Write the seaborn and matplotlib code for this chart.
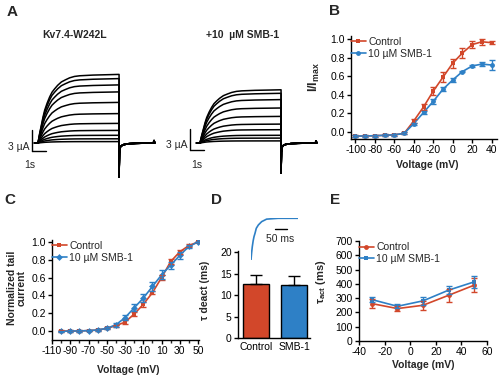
"""Kv7.4-W242L / SMB-1 figure: traces, activation, tail current, tau deact, tau act"""

import matplotlib
matplotlib.use("Agg")
from matplotlib import pyplot as plt
from matplotlib.ticker import MultipleLocator
import pandas as pd
import seaborn as sns

RED = "#D2472A"
BLUE = "#2E80C6"
W, H = 500, 377

# A: current traces (time in s, current in uA)
rise_t = [0.0, 0.12, 0.24, 0.36, 0.48, 0.65, 0.83, 1.0, 1.19, 1.4, 1.67, 1.95, 2.26, 2.6, 2.98, 3.93, 5.79]
rise_frac = [0.0, 0.14, 0.26, 0.38, 0.48, 0.58, 0.67, 0.74, 0.79, 0.84, 0.89, 0.92, 0.95, 0.97, 0.98, 0.99, 1.0]
tail_t = [0.0, 0.03, 0.1, 0.3, 0.7, 1.2, 2.45, 2.5, 2.55]
tail_frac = [-1.0, -0.3, -0.1, -0.05, -0.02, -0.01, 0.0, 0.07, 0.0]
amp_control = [9.8, 9.2, 8.3, 7.3, 5.8, 4.2, 2.8, 1.8, 1.1, 0.6, 0.2]
amp_smb = [7.6, 7.1, 6.2, 5.0, 3.8, 2.7, 1.9, 1.1, 0.7, 0.3]

# B: I/Imax vs voltage
volt_b = [-100, -90, -80, -70, -60, -50, -40, -30, -20, -10, 0, 10, 20, 30, 40]
b_control = [-0.045, -0.042, -0.04, -0.035, -0.03, -0.015, 0.12, 0.27, 0.44, 0.59, 0.74, 0.85, 0.94, 0.97, 0.96]
b_control_err = [0.01, 0.01, 0.01, 0.01, 0.01, 0.01, 0.02, 0.03, 0.04, 0.05, 0.05, 0.05, 0.04, 0.03, 0.015]
b_smb = [-0.045, -0.042, -0.04, -0.035, -0.03, -0.015, 0.09, 0.21, 0.33, 0.46, 0.56, 0.65, 0.71, 0.73, 0.72]
b_smb_err = [0.01, 0.01, 0.01, 0.01, 0.01, 0.01, 0.01, 0.02, 0.03, 0.02, 0.02, 0.01, 0.01, 0.02, 0.05]

# C: normalized tail current
volt_c = [-100, -90, -80, -70, -60, -50, -40, -30, -20, -10, 0, 10, 20, 30, 40, 50]
c_control = [0.0, 0.0, 0.0, 0.005, 0.01, 0.03, 0.06, 0.1, 0.19, 0.3, 0.43, 0.6, 0.78, 0.89, 0.96, 1.0]
c_control_err = [0.01, 0.01, 0.01, 0.01, 0.01, 0.01, 0.01, 0.02, 0.02, 0.03, 0.02, 0.03, 0.03, 0.02, 0.02, 0.0]
c_smb = [-0.005, 0.0, 0.0, 0.005, 0.012, 0.03, 0.07, 0.15, 0.26, 0.37, 0.5, 0.63, 0.74, 0.85, 0.95, 1.0]
c_smb_err = [0.01, 0.01, 0.01, 0.01, 0.01, 0.01, 0.02, 0.03, 0.04, 0.04, 0.05, 0.05, 0.04, 0.04, 0.02, 0.0]

# D: tau deact
groups_d = ["Control", "SMB-1"]
tau_deact = [12.5, 12.3]
tau_deact_err = [2.1, 2.1]
inset_t = [0.0, 2.5, 5.4, 9.0, 12.5, 16.7, 22.0, 30.6, 44.4, 65.0, 113.0, 197.0]
inset_frac = [0.0, 0.17, 0.32, 0.46, 0.56, 0.64, 0.76, 0.84, 0.92, 0.98, 1.0, 1.0]

# E: tau act
volt_e = [-30, -10, 10, 30, 50]
e_control = [262, 227, 250, 320, 391]
e_control_err = [30, 20, 30, 45, 50]
e_smb = [290, 243, 281, 356, 414]
e_smb_err = [20, 15, 30, 30, 40]


def rect(l, t, r, b):
    return [l / W, 1 - b / H, (r - l) / W, (b - t) / H]


def fig_text(fig, x, y, s, **kw):
    fig.text(x / W, 1 - y / H, s, **kw)


def draw_traces(ax, amps, spike):
    rows = []
    t_off = rise_t[-1]
    for k, amp in enumerate(amps):
        rows.append({"sweep": k, "t": -0.25, "i": 0.0})
        for t, f in zip(rise_t, rise_frac):
            rows.append({"sweep": k, "t": t, "i": amp * f})
        for t, f in zip(tail_t, tail_frac):
            rows.append({"sweep": k, "t": t_off + t, "i": f * spike})
    df = pd.DataFrame(rows)
    sns.lineplot(data=df, x="t", y="i", units="sweep", estimator=None, sort=False,
                 color="black", lw=1.1, ax=ax, legend=False)
    ax.set_axis_off()


def scale_bar(ax, x0, y0, label_x, label_y, s_x, s_y):
    ax.plot([x0, x0], [y0, y0 + 3], color="black", lw=1)
    ax.plot([x0, x0 + 1], [y0, y0], color="black", lw=1)
    ax.text(label_x, label_y, "3 µA", ha="right", va="center", fontsize=7.5)
    ax.text(s_x, s_y, "1s", ha="center", va="center", fontsize=7.5)


def iv_panel(ax, x, y1, e1, y2, e2, marker1, marker2):
    df = pd.DataFrame({"v": x + x, "y": y1 + y2,
                       "cond": ["Control"] * len(x) + ["10 µM SMB-1"] * len(x)})
    sns.lineplot(data=df, x="v", y="y", hue="cond", palette=[RED, BLUE],
                 style="cond", markers=[marker1, marker2], dashes=False,
                 markersize=3.5, markeredgewidth=0, lw=1.2, ax=ax)
    ax.errorbar(x, y1, yerr=e1, fmt="none", ecolor=RED, elinewidth=1, capsize=2)
    ax.errorbar(x, y2, yerr=e2, fmt="none", ecolor=BLUE, elinewidth=1, capsize=2)


def style_axes(ax):
    sns.despine(ax=ax)
    for sp in ["left", "bottom"]:
        ax.spines[sp].set_linewidth(1)
        ax.spines[sp].set_color("black")
    ax.tick_params(axis="both", labelsize=7.5, length=3, width=1, pad=1.5, colors="black")
    ax.tick_params(which="minor", length=2, width=1)


def legend(ax, y_top):
    leg = ax.legend(loc="upper left", bbox_to_anchor=(0.0, y_top), frameon=False,
                    fontsize=7.5, handlelength=1.4, handletextpad=0.25,
                    labelspacing=0.15, borderpad=0, borderaxespad=0)
    return leg


def main():
    sns.set_style("ticks")
    plt.rcParams["font.family"] = ["Liberation Sans", "DejaVu Sans"]
    plt.rcParams["mathtext.default"] = "regular"
    plt.rcParams["axes.unicode_minus"] = False

    fig = plt.figure(figsize=(5, 3.77), dpi=100)

    # A
    ax_a1 = fig.add_axes(rect(20, 60, 160, 180))
    draw_traces(ax_a1, amp_control, 4.9)
    ax_a1.set_xlim(-18 / 14, 122 / 14)
    ax_a1.set_ylim(-37 / 7, 83 / 7)
    scale_bar(ax_a1, -0.43, -1.14, -0.6, -0.57, -0.57, -3.14)

    ax_a2 = fig.add_axes(rect(185, 60, 325, 180))
    draw_traces(ax_a2, amp_smb, 4.3)
    ax_a2.set_xlim(-15 / 14, 125 / 14)
    ax_a2.set_ylim(-37 / 7, 83 / 7)
    scale_bar(ax_a2, -0.71, -1.0, -0.9, -0.29, -0.25, -3.14)

    fig_text(fig, 75, 35, "Kv7.4-W242L", ha="center", va="center", fontsize=7.5, fontweight="bold")
    fig_text(fig, 243, 35, "+10  µM SMB-1", ha="center", va="center", fontsize=7.5, fontweight="bold")

    # B
    ax_b = fig.add_axes(rect(351, 36, 497, 139))
    iv_panel(ax_b, volt_b, b_control, b_control_err, b_smb, b_smb_err, "s", "o")
    ax_b.set_xlim(-104.6, 45.5)
    ax_b.set_ylim(-0.075, 1.032)
    ax_b.xaxis.set_major_locator(MultipleLocator(20))
    ax_b.yaxis.set_major_locator(MultipleLocator(0.2))
    ax_b.yaxis.set_major_formatter(plt.FormatStrFormatter("%.1f"))
    style_axes(ax_b)
    ax_b.set_xlabel("Voltage (mV)", fontsize=7.5, fontweight="bold")
    ax_b.set_ylabel("I/I$_{max}$", fontsize=9, fontweight="bold")
    ax_b.xaxis.set_label_coords(0.52, -0.2)
    ax_b.yaxis.set_label_coords(-0.2, 0.6)
    legend(ax_b, 0.99)

    # C
    ax_c = fig.add_axes(rect(52, 240, 199, 340))
    iv_panel(ax_c, volt_c, c_control, c_control_err, c_smb, c_smb_err, "s", "D")
    ax_c.set_xlim(-110, 51)
    ax_c.set_ylim(-0.101, 1.022)
    ax_c.set_xticks([-110, -90, -70, -50, -30, -10, 10, 30, 50])
    ax_c.xaxis.set_minor_locator(MultipleLocator(10))
    ax_c.yaxis.set_major_locator(MultipleLocator(0.2))
    ax_c.yaxis.set_major_formatter(plt.FormatStrFormatter("%.1f"))
    style_axes(ax_c)
    ax_c.set_xlabel("Voltage (mV)", fontsize=7.5, fontweight="bold")
    ax_c.set_ylabel("Normalized tail\ncurrent", fontsize=7.5, fontweight="bold", linespacing=1.0)
    ax_c.xaxis.set_label_coords(0.52, -0.25)
    ax_c.yaxis.set_label_coords(-0.17, 0.52)
    legend(ax_c, 0.99)

    # D
    ax_d = fig.add_axes(rect(238, 251, 310, 338))
    df_d = pd.DataFrame({"group": groups_d, "tau": tau_deact})
    sns.barplot(data=df_d, x="group", y="tau", hue="group", palette=[RED, BLUE],
                width=0.68, edgecolor="black", linewidth=1, errorbar=None,
                saturation=1, legend=False, ax=ax_d)
    ax_d.errorbar([0, 1], tau_deact, yerr=[[0, 0], tau_deact_err], fmt="none",
                  ecolor="black", elinewidth=1, capsize=4.5, capthick=1)
    ax_d.set_xlim(-0.47, 1.41)
    ax_d.set_ylim(0, 20.25)
    ax_d.yaxis.set_major_locator(MultipleLocator(5))
    style_axes(ax_d)
    ax_d.tick_params(axis="x", length=0, pad=3)
    ax_d.set_xlabel("")
    ax_d.set_ylabel("τ deact (ms)", fontsize=7.5, fontweight="bold")
    ax_d.yaxis.set_label_coords(-0.39, 0.55)

    ax_in = fig.add_axes(rect(251, 218.3, 298.3, 260))
    sns.lineplot(x=inset_t, y=inset_frac, color=BLUE, lw=1.2, ax=ax_in)
    ax_in.set_xlim(0, 197)
    ax_in.set_ylim(0, 1)
    ax_in.plot([100, 150], [0.74, 0.74], color="black", lw=1)
    ax_in.text(121, 0.5, "50 ms", ha="center", va="center", fontsize=7.5)
    ax_in.set_axis_off()

    # E
    ax_e = fig.add_axes(rect(359, 241, 487, 341))
    iv_panel(ax_e, volt_e, e_control, e_control_err, e_smb, e_smb_err, "o", "s")
    ax_e.set_xlim(-40, 60)
    ax_e.set_ylim(0, 700)
    ax_e.xaxis.set_major_locator(MultipleLocator(20))
    ax_e.yaxis.set_major_locator(MultipleLocator(100))
    style_axes(ax_e)
    ax_e.set_xlabel("Voltage (mV)", fontsize=7.5, fontweight="bold")
    ax_e.set_ylabel("τ$_{act}$ (ms)", fontsize=8, fontweight="bold")
    ax_e.xaxis.set_label_coords(0.5, -0.19)
    ax_e.yaxis.set_label_coords(-0.24, 0.59)
    legend(ax_e, 0.985)

    # panel letters
    for letter, x, y in [("A", 12, 12), ("B", 334, 11), ("C", 10, 200), ("D", 217, 200), ("E", 335, 200)]:
        fig_text(fig, x, y, letter, ha="center", va="center", fontsize=11, fontweight="bold")

    fig.savefig("out.png", dpi=100)


if __name__ == "__main__":
    main()
